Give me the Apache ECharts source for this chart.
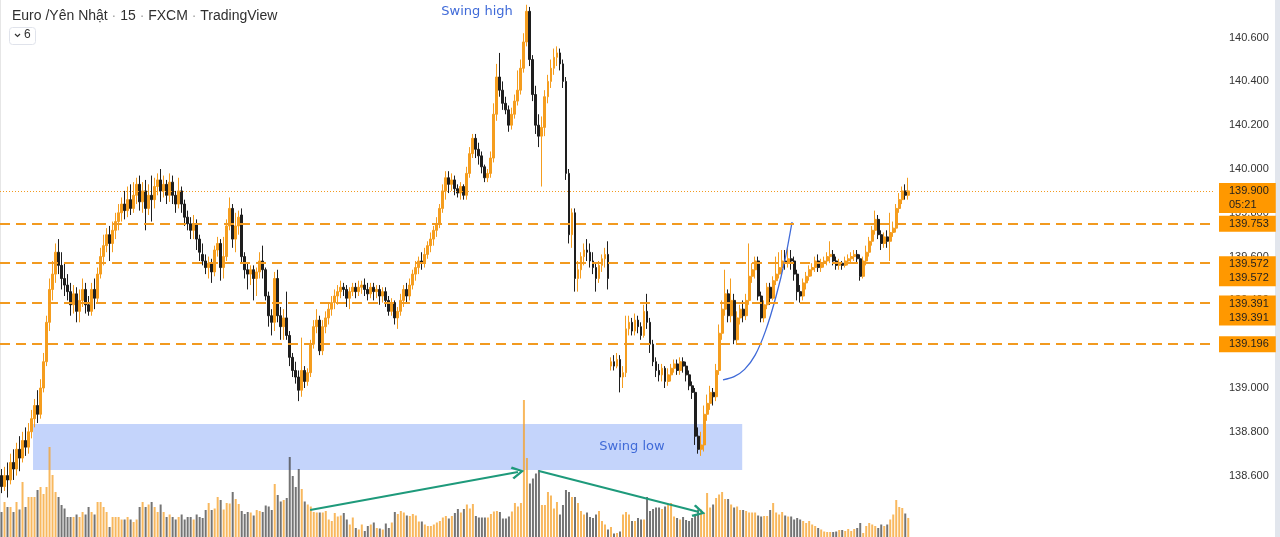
<!DOCTYPE html>
<html><head><meta charset="utf-8">
<script src="https://cdn.jsdelivr.net/npm/echarts@6/dist/echarts.min.js"></script>
<style>html,body{margin:0;padding:0;background:#fff;overflow:hidden}#c{width:1280px;height:537px}</style>
</head><body><div id="c"></div>
<script>
// [open, close, low, high] per 15-minute candle
const ohlc = [
[138.60,138.55,138.52,138.63],[138.55,138.60,138.53,138.64],[138.60,138.58,138.50,138.66],[138.58,138.66,138.56,138.70],[138.66,138.63,138.58,138.72],
[138.63,138.72,138.60,138.75],[138.72,138.68,138.62,138.78],[138.68,138.76,138.66,138.80],[138.76,138.73,138.69,138.82],[138.73,138.80,138.70,138.84],
[138.80,138.86,138.77,138.90],[138.86,138.92,138.82,138.95],[138.92,138.88,138.84,138.99],[138.88,139.00,138.86,139.04],[139.00,139.12,138.98,139.16],
[139.12,139.30,139.10,139.33],[139.30,139.45,139.26,139.50],[139.45,139.52,139.40,139.58],[139.52,139.62,139.48,139.66],[139.62,139.56,139.52,139.68],
[139.56,139.50,139.45,139.62],[139.50,139.47,139.42,139.57],[139.47,139.44,139.40,139.52],[139.44,139.38,139.33,139.48],[139.38,139.43,139.34,139.47],
[139.43,139.35,139.30,139.46],[139.35,139.40,139.30,139.45],[139.40,139.45,139.37,139.50],[139.45,139.38,139.34,139.48],[139.38,139.35,139.33,139.42],
[139.35,139.45,139.33,139.48],[139.45,139.41,139.36,139.50],[139.41,139.52,139.39,139.55],[139.52,139.60,139.50,139.64],[139.60,139.65,139.56,139.70],
[139.65,139.70,139.62,139.73],[139.70,139.66,139.58,139.74],[139.66,139.72,139.62,139.76],[139.72,139.76,139.68,139.80],[139.76,139.80,139.72,139.84],
[139.80,139.84,139.76,139.87],[139.84,139.81,139.77,139.90],[139.81,139.86,139.78,139.92],[139.86,139.82,139.79,139.93],[139.82,139.88,139.80,139.94],
[139.88,139.93,139.84,139.96],[139.93,139.85,139.81,139.97],[139.85,139.90,139.80,139.94],[139.90,139.82,139.72,139.95],[139.82,139.88,139.79,139.93],
[139.88,139.86,139.76,139.97],[139.86,139.92,139.82,139.96],[139.92,139.95,139.88,139.98],[139.95,139.90,139.85,140.00],[139.90,139.93,139.87,139.97],
[139.93,139.88,139.84,139.95],[139.88,139.94,139.85,139.98],[139.94,139.88,139.84,139.97],[139.88,139.84,139.80,139.90],[139.84,139.90,139.82,139.96],
[139.90,139.84,139.80,139.92],[139.84,139.78,139.74,139.86],[139.78,139.75,139.72,139.81],[139.75,139.72,139.68,139.78],[139.72,139.75,139.68,139.79],
[139.75,139.68,139.63,139.77],[139.68,139.62,139.58,139.70],[139.61,139.58,139.56,139.66],[139.58,139.55,139.52,139.61],[139.55,139.57,139.50,139.60],
[139.57,139.53,139.48,139.59],[139.53,139.63,139.51,139.65],[139.63,139.66,139.60,139.69],[139.66,139.55,139.49,139.68],[139.55,139.60,139.50,139.69],
[139.60,139.74,139.58,139.77],[139.74,139.82,139.72,139.87],[139.82,139.68,139.64,139.84],[139.68,139.74,139.62,139.80],[139.74,139.78,139.70,139.81],
[139.79,139.60,139.57,139.82],[139.60,139.54,139.50,139.62],[139.54,139.52,139.45,139.57],[139.52,139.54,139.47,139.56],[139.54,139.50,139.40,139.56],
[139.50,139.53,139.42,139.55],[139.53,139.58,139.50,139.62],[139.58,139.54,139.50,139.65],[139.54,139.42,139.40,139.55],[139.42,139.33,139.28,139.44],
[139.33,139.30,139.24,139.36],[139.30,139.50,139.26,139.53],[139.50,139.33,139.30,139.54],[139.33,139.28,139.22,139.37],[139.28,139.32,139.22,139.36],
[139.32,139.24,139.22,139.44],[139.24,139.14,139.10,139.26],[139.14,139.08,139.05,139.16],[139.08,139.05,139.02,139.12],[139.05,138.99,138.94,139.08],
[138.99,139.08,138.96,139.23],[139.08,139.03,139.00,139.10],[139.03,139.07,139.01,139.09],[139.07,139.20,139.05,139.22],[139.20,139.28,139.18,139.31],
[139.28,139.31,139.25,139.36],[139.31,139.17,139.15,139.33],[139.17,139.28,139.15,139.31],[139.28,139.32,139.25,139.35],[139.32,139.36,139.29,139.39],
[139.36,139.39,139.33,139.42],[139.39,139.42,139.36,139.45],[139.42,139.44,139.38,139.47],[139.44,139.46,139.41,139.49],[139.46,139.45,139.42,139.48],
[139.45,139.41,139.37,139.47],[139.41,139.44,139.36,139.46],[139.44,139.46,139.42,139.48],[139.46,139.44,139.41,139.48],[139.44,139.46,139.42,139.49],
[139.46,139.47,139.43,139.49],[139.47,139.45,139.42,139.50],[139.45,139.43,139.40,139.48],[139.43,139.46,139.41,139.48],[139.46,139.44,139.40,139.48],
[139.44,139.45,139.41,139.47],[139.45,139.42,139.38,139.47],[139.42,139.44,139.39,139.46],[139.44,139.40,139.37,139.46],[139.40,139.35,139.33,139.42],
[139.35,139.39,139.33,139.41],[139.39,139.32,139.29,139.40],[139.32,139.35,139.27,139.37],[139.35,139.40,139.33,139.43],[139.40,139.45,139.37,139.47],
[139.45,139.42,139.39,139.48],[139.42,139.47,139.40,139.50],[139.47,139.52,139.45,139.54],[139.52,139.55,139.49,139.58],[139.55,139.58,139.52,139.60],
[139.58,139.57,139.54,139.62],[139.57,139.61,139.55,139.64],[139.61,139.65,139.59,139.67],[139.65,139.68,139.62,139.71],[139.68,139.72,139.65,139.74],
[139.72,139.75,139.69,139.78],[139.75,139.82,139.73,139.84],[139.82,139.90,139.80,139.93],[139.90,139.96,139.86,139.99],[139.96,139.93,139.89,139.99],
[139.93,139.95,139.90,139.98],[139.95,139.91,139.88,139.97],[139.91,139.89,139.87,139.93],[139.89,139.92,139.86,139.94],[139.92,139.88,139.86,139.93],
[139.88,139.98,139.86,140.01],[139.98,140.07,139.96,140.10],[140.07,140.14,140.05,140.16],[140.14,140.09,140.05,140.16],[140.09,140.06,140.02,140.12],
[140.06,140.01,139.98,140.08],[140.01,139.96,139.94,140.02],[139.96,139.98,139.94,140.00],[139.98,140.05,139.96,140.08],[140.05,140.25,140.03,140.30],
[140.25,140.42,140.22,140.48],[140.42,140.36,140.33,140.53],[140.36,140.30,140.27,140.40],[140.30,140.27,140.25,140.33],[140.27,140.20,140.17,140.29],
[140.20,140.25,140.18,140.28],[140.25,140.31,140.23,140.34],[140.31,140.36,140.29,140.45],[140.36,140.46,140.34,140.50],[140.46,140.58,140.44,140.62],
[140.58,140.72,140.56,140.75],[140.72,140.50,140.47,140.74],[140.50,140.34,140.31,140.52],[140.34,140.20,140.16,140.38],[140.20,140.15,140.10,140.25],
[140.15,140.19,139.92,140.24],[140.19,140.33,140.15,140.36],[140.33,140.40,140.30,140.43],[140.40,140.46,140.37,140.50],[140.46,140.51,140.43,140.55],
[140.51,140.53,140.47,140.56],[140.53,140.48,140.45,140.55],[140.48,140.40,140.37,140.50],[140.40,139.98,139.95,140.42],[139.98,139.70,139.66,140.00],
[139.70,139.80,139.64,139.82],[139.80,139.50,139.44,139.82],[139.50,139.54,139.44,139.58],[139.54,139.60,139.50,139.62],[139.60,139.63,139.56,139.66],
[139.63,139.62,139.58,139.68],[139.62,139.58,139.55,139.66],[139.58,139.55,139.52,139.62],[139.55,139.50,139.44,139.57],[139.50,139.56,139.48,139.58],
[139.56,139.59,139.53,139.61],[139.59,139.61,139.55,139.64],[139.61,139.50,139.45,139.67],[139.10,139.12,139.08,139.14],[139.12,139.10,139.08,139.15],
[139.10,139.13,139.09,139.16],[139.13,139.05,138.98,139.15],[139.05,139.07,139.00,139.10],[139.07,139.27,139.05,139.33],[139.27,139.30,139.24,139.33],
[139.30,139.26,139.24,139.32],[139.26,139.31,139.24,139.34],[139.31,139.28,139.25,139.33],[139.28,139.24,139.22,139.30],[139.24,139.35,139.23,139.38],
[139.35,139.30,139.27,139.43],[139.30,139.20,139.16,139.32],[139.20,139.12,139.10,139.22],[139.12,139.08,139.05,139.14],[139.08,139.06,139.03,139.11],
[139.06,139.09,139.03,139.11],[139.09,139.03,139.00,139.10],[139.03,139.06,139.01,139.09],[139.06,139.09,139.03,139.11],[139.09,139.11,139.07,139.13],
[139.11,139.08,139.06,139.13],[139.08,139.12,139.06,139.14],[139.12,139.10,139.07,139.14],[139.10,139.06,139.03,139.12],[139.06,139.01,138.99,139.08],
[139.01,138.98,138.95,139.03],[138.98,138.78,138.74,139.00],[138.78,138.72,138.70,138.82],[138.72,138.74,138.69,138.80],[138.74,138.88,138.71,138.92],
[138.88,138.93,138.85,138.97],[138.93,138.98,138.90,139.01],[138.98,138.96,138.92,139.00],[138.96,139.08,138.94,139.11],[139.08,139.25,139.06,139.29],
[139.25,139.36,139.22,139.40],[139.36,139.43,139.33,139.54],[139.43,139.33,139.30,139.45],[139.33,139.40,139.30,139.50],[139.40,139.22,139.20,139.43],
[139.22,139.32,139.20,139.35],[139.32,139.36,139.29,139.38],[139.36,139.33,139.30,139.40],[139.33,139.40,139.31,139.43],[139.40,139.51,139.38,139.66],
[139.51,139.54,139.48,139.57],[139.54,139.58,139.50,139.60],[139.58,139.42,139.40,139.60],[139.42,139.32,139.30,139.44],[139.32,139.38,139.30,139.40],
[139.38,139.46,139.36,139.48],[139.46,139.41,139.38,139.48],[139.41,139.49,139.40,139.51],[139.49,139.52,139.47,139.60],[139.52,139.55,139.50,139.62],
[139.55,139.58,139.52,139.63],[139.58,139.57,139.54,139.63],[139.57,139.59,139.55,139.64],[139.59,139.58,139.54,139.63],[139.58,139.52,139.49,139.60],
[139.52,139.44,139.40,139.54],[139.44,139.42,139.39,139.47],[139.42,139.48,139.40,139.50],[139.48,139.51,139.45,139.53],[139.51,139.54,139.49,139.56],
[139.54,139.55,139.51,139.57],[139.55,139.58,139.53,139.60],[139.58,139.55,139.53,139.61],[139.55,139.57,139.53,139.59],[139.57,139.58,139.55,139.60],
[139.58,139.60,139.56,139.62],[139.60,139.61,139.57,139.67],[139.61,139.58,139.56,139.63],[139.58,139.56,139.54,139.60],[139.56,139.57,139.54,139.59],
[139.57,139.56,139.54,139.58],[139.56,139.58,139.55,139.60],[139.58,139.59,139.56,139.61],[139.59,139.60,139.57,139.62],[139.60,139.61,139.58,139.63],
[139.61,139.59,139.57,139.63],[139.59,139.51,139.49,139.61],[139.51,139.58,139.50,139.60],[139.58,139.62,139.56,139.65],[139.62,139.67,139.60,139.69],
[139.67,139.72,139.65,139.74],[139.72,139.77,139.70,139.81],[139.77,139.70,139.68,139.79],[139.70,139.66,139.63,139.72],[139.66,139.69,139.64,139.71],
[139.69,139.67,139.64,139.72],[139.67,139.71,139.58,139.80],[139.71,139.73,139.69,139.76],[139.73,139.82,139.71,139.84],[139.82,139.86,139.80,139.89],
[139.86,139.90,139.84,139.92],[139.90,139.88,139.86,139.93],[139.88,139.90,139.86,139.96]
];
// volume per candle, thousands
const volumes = [
5,7,6,6,5,7,5.5,11,6,8,8,8,9.4,10,8.6,10,18,12.4,9,8,6.4,
5.7,4,4,4,4.5,4,5,4.5,6,5,4.5,7,7,
6,5,2,4,4,4,3.5,3.5,4,3.5,3,3.5,6,7,6,6.5,7,6,5,6.5,5,4,4.5,4,3.5,4,4.5,3.5,4,4,3.5,4.5,4,
3.8,5.4,6.8,5.4,5.7,8,7.4,5.5,6.8,6.7,9,7.6,6.6,5.2,4.6,5,4.9,4.3,5.4,5.2,5,6.3,6.1,5.4,10.6,8.4,7.1,7.4,7.8,16,12.2,10,13.6,
9.6,7.1,6.5,6.1,5,4.9,4.9,4.9,5.2,3.5,3.2,4.8,4.1,4.3,4.8,3.5,2.5,3.9,1.8,1.5,2.5,1.2,2.2,2.5,2.9,1.8,1.7,1.5,2.7,1.8,2.9,5,4.6,
5.2,4.9,4.3,4.2,4.6,4.3,3.1,3.1,2.5,2.2,2.2,2.5,2.9,3.2,3.9,4.2,3.7,4.2,4.8,5.6,4.9,5.6,6.5,5.7,6.6,4.2,3.9,3.9,3.9,3.9,4.6,5.1,5.2,
5,3.7,3.7,4.1,5.1,6.8,6.1,6.8,27.4,15.8,10.7,11.7,12.7,13.4,6.4,6.4,9,8.3,5.7,7,4.5,6.4,9.4,9,8,8,6.8,5.2,4.5,4.9,4,3.8,4.5,
5.2,3.2,2.5,1.5,2,0.7,0.8,1.1,4.5,5,4.5,3.2,3.2,3.8,3.5,3.5,8,5.2,5.6,5.9,5.9,5.6,6.1,6.6,6.8,4.1,3.8,3.5,4,3.4,3.2,3.8,4.5,
5.5,5.5,4.9,8.8,5.9,6.5,7.8,8.5,9,7.6,7.6,6.5,5.9,6.1,5.4,5.4,5.2,4.9,4.9,4.9,4.3,4.1,4.2,4.2,5.4,6.8,4.9,4.5,5,4.3,4.1,4.1,3.5,
3.8,3.5,3.2,2.8,3.2,2.5,2.2,1.8,1.5,1.1,1.0,1.0,1.0,1.1,1.4,1.4,1.2,1.6,1.2,1.6,1.8,2.8,0.8,2.2,2.8,2.5,2.2,1.8,2.5,2.2,2.5,3.5,4.5,7.4,6,5.8,4.7,3.809
];
const levelPrices = [139.753, 139.572, 139.391, 139.196];
const levelTagRepeats = [1, 2, 2, 1];
const lastPrice = 139.900;
const countdown = '05:21';
const lastVolume = 3.809;
const lastVolumeLabel = '3.809K';
const priceMin = 138.2, priceMax = 140.8, priceStep = 0.2;
const slotCount = 404;
const swingZone = {x0: 10.5, x1: 246.7, top: 138.836, bottom: 138.626};
const curvePoints = [[240.3,139.037],[244.0,139.052],[247.5,139.085],[251.0,139.150],[254.5,139.262],[258.0,139.420],[261.0,139.590],[263.3,139.758]];
const volumeArrows = [[[102.8,5.4],[172.0,13.0]],[[179.0,13.2],[232.3,5.0]]];
const swingLabels = [{name:'Swing high', at:[158.4,140.717]},{name:'Swing low', at:[210.0,138.731]}];
const titleParts = ['Euro /Yên Nhật', '15', 'FXCM', 'TradingView'];

const UP = '#f59d1e', DOWN = '#1e1e1e', TAG = '#ff9800', LINE = '#f29a1f', BLUE = '#3f6ad8', GREEN = '#1e9a7b';
const FONT = 'Liberation Sans';
const cats = Array.from({length: slotCount}, (_, i) => String(i));
const volData = volumes.map((v, i) => ({
  value: v,
  itemStyle: {color: ohlc[i][1] >= ohlc[i][0] ? 'rgba(245,160,40,0.75)' : 'rgba(70,70,70,0.75)'}
}));
function tag(text, dy) {
  return {show: true, position: 'end', distance: 6, formatter: text, backgroundColor: TAG, color: '#1f1f1f',
    fontFamily: FONT, fontSize: 11, lineHeight: 14, padding: [1, 7, 1, 10], offset: [0, dy]};
}
const levelLines = levelPrices.map((p, k) => ({
  yAxis: p,
  lineStyle: {type: [10, 6], width: 2, color: LINE},
  label: tag(Array(levelTagRepeats[k]).fill(p.toFixed(3)).join('\n'), levelTagRepeats[k] > 1 ? 8 : 0)
}));
levelLines.unshift({yAxis: lastPrice, lineStyle: {type: [1, 2], width: 1, color: LINE}, label: tag(lastPrice.toFixed(3) + '\n' + countdown, 7)});

const chevron = 'path://M0,9 L6,0 L12,9 L10.2,10.2 L6,3.4 L1.8,10.2 Z';
const chart = echarts.init(document.getElementById('c'));
chart.setOption({
  animation: false,
  backgroundColor: '#ffffff',
  title: {
    left: 7, top: 4,
    text: titleParts.map(t => '{a|' + t + '}').join('{b| · }'),
    textStyle: {fontWeight: 'normal', rich: {
      a: {fontFamily: FONT, fontSize: 14, fontWeight: 'normal', color: '#2f2f2f'},
      b: {fontFamily: FONT, fontSize: 14, fontWeight: 'normal', color: '#a0a0a0'}
    }}
  },
  grid: [
    {left: 0, width: 1213, top: -6.2, height: 569.4, outerBoundsMode: 'none', containLabel: false},
    {left: 0, width: 1213, bottom: 0, height: 200, outerBoundsMode: 'none', containLabel: false}
  ],
  xAxis: [
    {type: 'category', gridIndex: 0, data: cats, show: false, boundaryGap: true},
    {type: 'category', gridIndex: 1, data: cats, show: false, boundaryGap: true},
    {type: 'value', gridIndex: 0, min: -0.5, max: slotCount - 0.5, show: false},
    {type: 'value', gridIndex: 1, min: -0.5, max: slotCount - 0.5, show: false}
  ],
  yAxis: [
    {type: 'value', gridIndex: 0, position: 'right', min: priceMin, max: priceMax, interval: priceStep,
     axisLine: {show: false}, axisTick: {show: false}, splitLine: {show: false},
     axisLabel: {margin: 16, color: '#333', fontFamily: FONT, fontSize: 11,
       formatter: v => (v > 140.7 || v < 138.5) ? '' : v.toFixed(3)}},
    {type: 'value', gridIndex: 1, min: 0, max: 40, show: false}
  ],
  series: [
    {
      type: 'bar', name: 'volume', xAxisIndex: 1, yAxisIndex: 1, data: volData, barWidth: 2, z: 2,
      markLine: {silent: true, symbol: ['none', 'none'], lineStyle: {opacity: 0},
        data: [{yAxis: lastVolume, label: {show: true, position: 'end', distance: 6, formatter: lastVolumeLabel,
          backgroundColor: TAG, color: '#1f1f1f', fontFamily: FONT, fontSize: 11, lineHeight: 14, padding: [1, 6, 1, 6]}}]}
    },
    {
      type: 'candlestick', name: 'EURJPY', xAxisIndex: 0, yAxisIndex: 0, data: ohlc, barWidth: 2.4, z: 3,
      itemStyle: {color: UP, color0: DOWN, borderColor: UP, borderColor0: DOWN, borderWidth: 1},
      markLine: {silent: true, symbol: ['none', 'none'], data: levelLines}
    },
    {
      type: 'line', name: 'annot', xAxisIndex: 2, yAxisIndex: 0, data: curvePoints, smooth: 0.3,
      showSymbol: false, z: 4,
      lineStyle: {color: BLUE, width: 1.3},
      markArea: {silent: true, itemStyle: {color: '#c4d4fb'},
        data: [[{coord: [swingZone.x0, swingZone.top]}, {coord: [swingZone.x1, swingZone.bottom]}]]},
      markPoint: {silent: true, symbol: 'rect', symbolSize: 1, itemStyle: {color: 'rgba(0,0,0,0)'},
        label: {show: true, position: 'inside', formatter: '{b}', color: BLUE, fontFamily: 'DejaVu Sans', fontSize: 13},
        data: swingLabels.map(s => ({name: s.name, coord: s.at}))}
    },
    {
      type: 'line', name: 'arrows', xAxisIndex: 3, yAxisIndex: 1, data: [], z: 4,
      markLine: {silent: true, symbol: ['none', chevron], symbolSize: 13,
        lineStyle: {color: GREEN, width: 2, type: 'solid'}, label: {show: false},
        data: volumeArrows.map(a => [{coord: a[0]}, {coord: a[1]}])}
    }
  ],
  graphic: [
    {type: 'rect', left: 0, top: 0, shape: {width: 1, height: 537}, style: {fill: '#e6e6e6'}},
    {type: 'rect', left: 1275, top: 0, shape: {width: 5, height: 537}, style: {fill: '#e2e6ed'}},
    {type: 'rect', left: 9, top: 27, shape: {width: 26, height: 17, r: 3}, style: {fill: '#fff', stroke: '#e0e3eb', lineWidth: 1}},
    {type: 'polyline', shape: {points: [[15, 34], [17.5, 36.5], [20, 34]]}, style: {stroke: '#333', lineWidth: 1.2, fill: null}},
    {type: 'text', left: 24, top: 29, style: {text: '6', fontFamily: FONT, fontSize: 12, fill: '#333'}}
  ]
});
</script></body></html>
